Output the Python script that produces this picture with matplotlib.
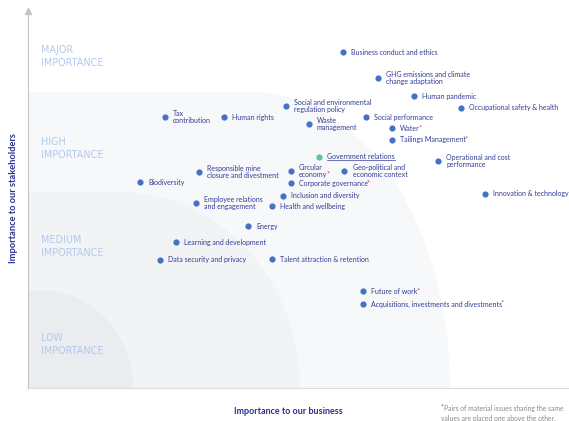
import matplotlib
matplotlib.use("Agg")
import matplotlib.pyplot as plt
import numpy as np
from matplotlib.patches import Polygon

# ---------------- data ----------------
issues = [
    "Business conduct and ethics",
    "GHG emissions and climate\nchange adaptation",
    "Human pandemic",
    "Occupational safety & health",
    "Social and environmental\nregulation policy",
    "Tax\ncontribution",
    "Human rights",
    "Social performance",
    "Waste\nmanagement",
    "Water",
    "Tailings Management",
    "Government relations",
    "Operational and cost\nperformance",
    "Circular\neconomy",
    "Geo-political and\neconomic context",
    "Responsible mine\nclosure and divestment",
    "Biodiversity",
    "Corporate governance",
    "Innovation & technology",
    "Inclusion and diversity",
    "Employee relations\nand engagement",
    "Health and wellbeing",
    "Energy",
    "Learning and development",
    "Data security and privacy",
    "Talent attraction & retention",
    "Future of work",
    "Acquisitions, investments and divestments",
]
business = [58.2, 64.7, 71.3, 80.0, 47.7, 25.3, 36.3, 62.5, 51.9, 67.3, 67.3, 53.8,
            75.8, 48.6, 58.5, 31.6, 20.7, 48.6, 84.5, 47.1, 31.1, 45.1, 40.7, 27.4,
            24.4, 45.1, 61.9, 61.9]
stakeholders = [88.3, 81.7, 76.8, 73.8, 74.3, 71.3, 71.3, 71.3, 69.5, 68.3, 65.3, 60.8,
                59.7, 57.2, 57.2, 56.9, 54.1, 53.9, 51.1, 50.6, 48.7, 47.8, 42.6, 38.4,
                33.7, 33.9, 25.4, 22.1]
paired = ["Water", "Tailings Management", "Circular\neconomy", "Corporate governance",
          "Future of work", "Acquisitions, investments and divestments"]
highlight = ["Government relations"]

levels = ["MAJOR\nIMPORTANCE", "HIGH\nIMPORTANCE", "MEDIUM\nIMPORTANCE", "LOW\nIMPORTANCE"]
level_y = [87.3, 63.1, 37.2, 11.4]

# ---------------- figure ----------------
W, H = 569, 421
fig = plt.figure(figsize=(W / 100, H / 100), dpi=100)
fig.patch.set_facecolor("white")
L, R, T, B = 28, 569, 8, 388
ax = fig.add_axes([L / W, (H - B) / H, (R - L) / W, (B - T) / H])
ax.set_xlim(0, 100)
ax.set_ylim(0, 100)
ax.set_facecolor("white")
for s in ax.spines.values():
    s.set_visible(False)
ax.set_xticks([])
ax.set_yticks([])

pxx = (R - L) / 100.0
pxy = (B - T) / 100.0


def zone(top, cx, rx, color):
    t = np.linspace(np.pi / 2, 0, 80)
    arc = np.column_stack([cx + rx * np.cos(t), top * np.sin(t)])
    pts = np.vstack([[0, 0], [0, top], arc, [cx + rx, 0]])
    ax.add_patch(Polygon(pts, closed=True, facecolor=color, edgecolor="none", zorder=0))


zone((B - 92) / pxy, (253 - L) / pxx, 197 / pxx, "#f7f8f9")
zone((B - 192) / pxy, (120 - L) / pxx, 180 / pxx, "#f2f3f5")
zone((B - 290) / pxy, (40 - L) / pxx, 93 / pxx, "#eaecef")

# axis lines
ax.plot([0, 100], [0, 0], color="#dedede", lw=0.8, zorder=1, clip_on=False)
ax.plot([0, 0], [0, 98.5], color="#c4c4c4", lw=0.8, zorder=1, clip_on=False)
ax.plot([0], [99.3], marker="^", color="#c4c4c4", ms=4, zorder=1, clip_on=False)

for lab, yy in zip(levels, level_y):
    ax.text(2.4, yy, lab, color="#b3c8ee", fontsize=6.9, family="DejaVu Sans",
            va="center", ha="left", linespacing=1.38, zorder=2)

text_color = "#343c94"
dot_color = "#4472c4"
green = "#5cc39a"
fs = 5.0
fam = ["Lato", "DejaVu Sans"]

texts = []
for name, x, y in zip(issues, business, stakeholders):
    c = green if name in highlight else dot_color
    ax.scatter([x], [y], s=20, color=c, zorder=3, linewidths=0)
    t = ax.annotate(name, (x, y), xytext=(5.8, 0), textcoords="offset points",
                    fontsize=fs, family=fam, color=text_color, va="center", ha="left",
                    linespacing=1.0, zorder=4)
    texts.append((name, t))

fig.canvas.draw()
renderer = fig.canvas.get_renderer()
for name, t in texts:
    bb = t.get_window_extent(renderer)
    if name in paired:
        lines = name.split("\n")
        nl = len(lines)
        top = bb.y1 - (bb.height / nl) * (nl - 1)
        tmp = fig.text(0, 0, lines[-1], fontsize=fs, family=fam)
        lw = tmp.get_window_extent(renderer).width
        tmp.remove()
        fig.text((bb.x0 + lw - 1.2) / W, (top + 0.5) / H, "*", fontsize=fs + 0.4,
                 family=fam, color="#e8312f", va="top", ha="left")
    if name in highlight:
        yl = (bb.y0 + 0.6) / H
        fig.add_artist(plt.Line2D([bb.x0 / W, bb.x1 / W], [yl, yl],
                                  color=text_color, lw=0.5))

fig.text(14 / W, 1 - 198 / H, "Importance to our stakeholders", rotation=90,
         color="#2b2f8f", fontsize=6.7, fontweight="bold", family=fam,
         ha="center", va="center")
fig.text(288 / W, 1 - 411 / H, "Importance to our business",
         color="#2b2f8f", fontsize=6.5, fontweight="bold", family=fam,
         ha="center", va="center")

fig.text(441 / W, 1 - 407.5 / H, "*", color="#e8312f", fontsize=4.9, family=fam,
         ha="left", va="center")
fig.text(444.5 / W, 1 - 408 / H, "Pairs of material issues sharing the same",
         color="#8a8a8a", fontsize=4.9, family=fam, ha="left", va="center")
fig.text(441 / W, 1 - 418 / H, "values are placed one above the other.",
         color="#8a8a8a", fontsize=4.9, family=fam, ha="left", va="center")

fig.savefig("out.png", dpi=100, facecolor="white")
